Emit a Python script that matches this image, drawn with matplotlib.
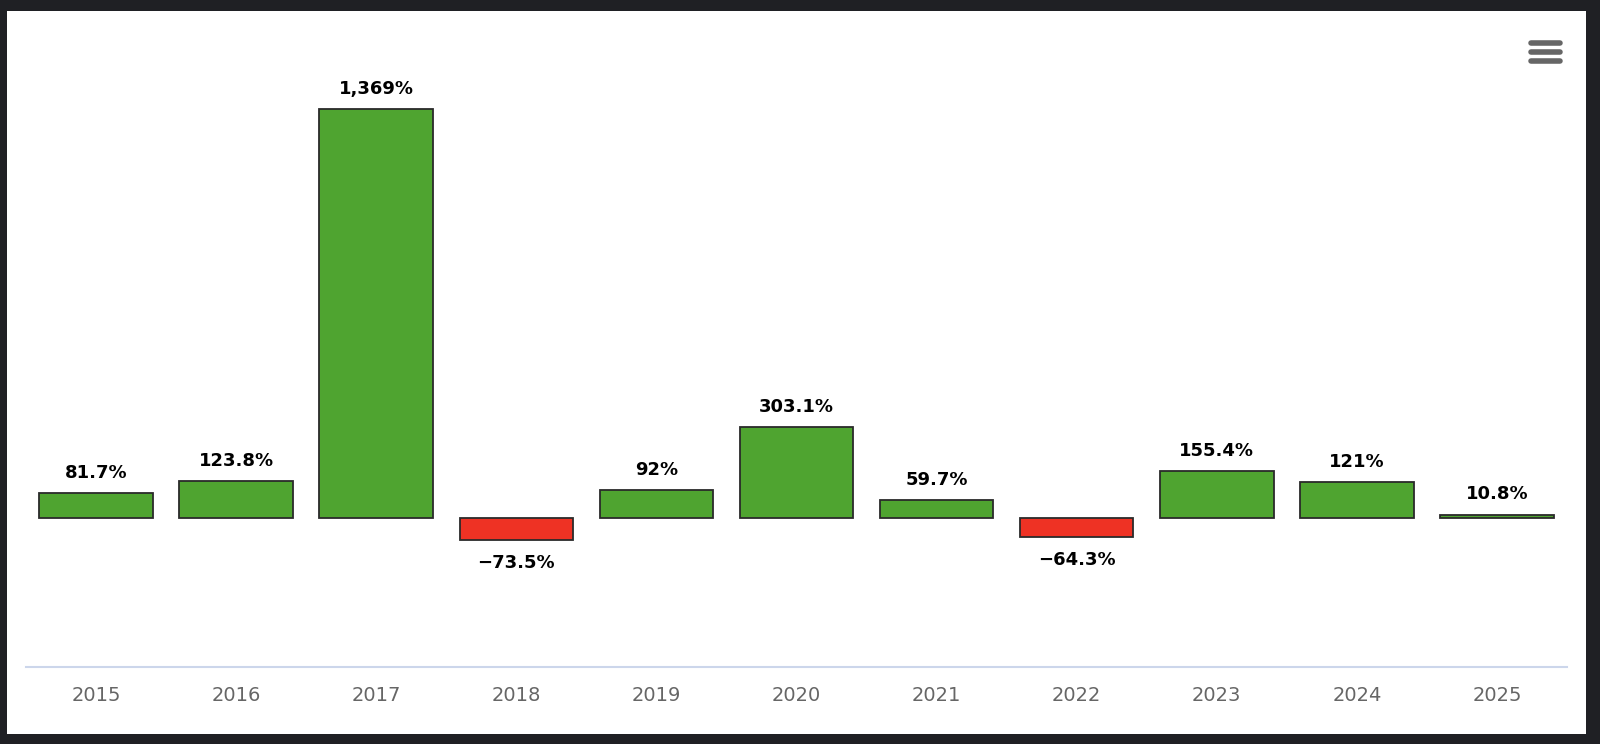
import matplotlib.pyplot as plt
from matplotlib.patches import Rectangle
from matplotlib.lines import Line2D

years = ["2015", "2016", "2017", "2018", "2019", "2020", "2021", "2022", "2023", "2024", "2025"]
returns = [81.7, 123.8, 1369, -73.5, 92, 303.1, 59.7, -64.3, 155.4, 121, 10.8]

green = "#4fa430"
red = "#ee3224"

W, H = 1600, 744
fig = plt.figure(figsize=(W / 100, H / 100), dpi=100, facecolor="#1f2024")

# white card behind the chart
fig.patches.append(Rectangle((7 / W, 1 - 734 / H), (1586 - 7) / W, (734 - 11) / H,
                             transform=fig.transFigure, facecolor="white",
                             edgecolor="none", zorder=-10))

# hamburger menu icon
for yy in [43, 52, 61]:
    fig.lines.append(Line2D([1531 / W, 1560 / W], [1 - yy / H, 1 - yy / H],
                            transform=fig.transFigure, color="#666666",
                            linewidth=4, solid_capstyle="round"))

ax = fig.add_axes([26 / W, 1 - 667 / H, (1567 - 26) / W, (667 - 70) / H])
ax.set_facecolor("none")
ax.set_zorder(5)

x = list(range(len(years)))
colors = [green if v >= 0 else red for v in returns]
ax.bar(x, returns, width=0.81, color=colors, edgecolor="#2a2a2a", linewidth=1.3, zorder=3)

for xi, v in zip(x, returns):
    lab = "{:,g}%".format(v).replace("-", "\u2212")
    if v >= 0:
        ax.annotate(lab, (xi, v), xytext=(0, 8), textcoords="offset points",
                    ha="center", va="bottom", fontsize=13, fontweight="bold", color="black")
    else:
        ax.annotate(lab, (xi, v), xytext=(0, -10), textcoords="offset points",
                    ha="center", va="top", fontsize=13, fontweight="bold", color="black")

ax.set_xlim(-0.5, len(years) - 0.5)
ax.set_ylim(-500, 1500)
ax.set_xticks(x)
ax.set_xticklabels(years, fontsize=14, color="#666666")
ax.tick_params(axis="x", length=0, pad=14)
ax.set_yticks([])
for s in ["top", "left", "right"]:
    ax.spines[s].set_visible(False)
ax.spines["bottom"].set_color("#ccd6eb")
ax.spines["bottom"].set_linewidth(1.5)

fig.savefig("out.png", dpi=100, facecolor=fig.get_facecolor())
